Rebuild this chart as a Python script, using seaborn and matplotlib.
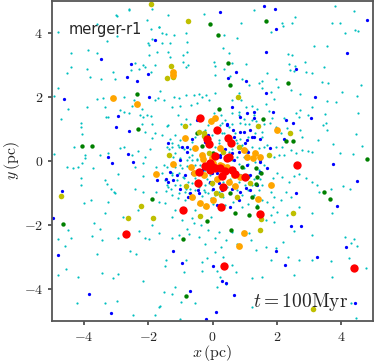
import pandas as pd
import numpy as np

#visalization
import matplotlib
matplotlib.use("Agg")
import matplotlib.pyplot as plt
import matplotlib.ticker as mticker
import seaborn as sns

cyan_xy = [
    (-4.82, 4.04), (-2.59, 4.72), (-3.01, 4.56), (-1.89, 4.74), (-2.03, 4.41), (-1.68, 4.18),
    (-1.57, 3.99), (-1.44, 3.97), (-1.93, 4.14), (-2.98, 3.90), (-3.29, 3.76), (-3.60, 3.38),
    (-3.88, 3.47), (-4.41, 3.36), (-4.42, 2.95), (-4.54, 2.76), (-3.92, 2.86), (-3.83, 2.61),
    (-3.48, 2.56), (-3.10, 2.78), (-3.03, 2.56), (-2.53, 2.84), (-2.41, 3.07), (-2.30, 2.89),
    (-2.18, 2.99), (-1.99, 3.31), (-2.11, 2.95), (-1.91, 2.79), (-1.79, 2.99), (-1.73, 3.42),
    (-1.99, 3.62), (-2.02, 3.70), (-1.88, 3.80), (-1.57, 3.68), (-1.39, 3.42), (-1.31, 3.26),
    (-1.31, 3.68), (-1.21, 3.94), (-0.79, 3.73), (-0.79, 3.42), (-0.76, 3.00), (-0.84, 2.93),
    (-0.93, 3.10), (-0.93, 3.31), (-4.82, 2.27), (-4.93, 2.03), (-4.51, 1.64), (-4.72, 1.31),
    (-3.92, 1.70), (-3.60, 1.93), (-3.42, 1.98), (-3.34, 1.70), (-2.51, 1.72), (-2.46, 1.90),
    (-2.20, 1.64), (-2.77, 2.01), (-3.32, 1.38), (-3.24, 1.38), (-2.87, 1.59), (-2.77, 1.54),
    (-2.61, 1.49), (-2.25, 1.44), (-2.18, 1.36), (-2.04, 1.44), (-1.92, 1.40), (-1.62, 2.20),
    (-1.70, 1.98), (-1.78, 1.90), (-1.52, 1.90), (-1.26, 1.70), (-1.21, 2.01), (-1.05, 1.96),
    (-1.00, 1.72), (-0.82, 2.06), (-0.58, 2.06), (-0.43, 2.09), (-0.32, 2.01), (-0.19, 2.06),
    (-0.11, 1.90), (-0.48, 1.82), (-0.66, 1.75), (-4.09, 1.20), (-4.09, 1.07), (-4.07, 0.84),
    (-4.30, 0.45), (-4.93, 0.22), (-3.97, 0.19), (-3.97, 0.10), (-3.50, 0.19), (-3.24, 0.26),
    (-2.87, 0.40), (-2.77, 0.45), (-2.51, 0.19), (-2.33, 0.31), (-2.09, 0.13), (-1.94, 0.36),
    (-1.88, 0.71), (-1.78, 0.86), (-2.09, 0.91), (-1.88, 1.16), (-2.20, 1.16), (-1.42, 1.09),
    (-1.57, 0.81), (-1.31, 0.68), (-1.42, 0.45), (-1.34, 0.39), (-1.26, 0.45), (-1.16, 0.24),
    (-1.05, 0.43), (-0.90, 0.36), (-0.69, 0.36), (-0.74, 0.13), (-0.64, 0.03), (-0.48, 0.06),
    (-0.27, 0.16), (-0.32, 0.47),
    (0.88, 4.32), (1.81, 4.04), (2.20, 4.22), (2.47, 4.32), (2.57, 4.51), (3.71, 4.32),
    (4.42, 4.70), (4.44, 4.09), (4.12, 3.99), (3.15, 3.59), (3.56, 3.59), (0.37, 3.94),
    (0.77, 3.83), (0.33, 3.54), (0.51, 3.36), (0.61, 3.05), (1.03, 3.03), (0.04, 3.10),
    (0.07, 2.98), (0.35, 2.86), (0.09, 2.69), (0.53, 2.66), (0.91, 2.55), (1.14, 2.37),
    (1.45, 2.45), (1.55, 2.50), (1.71, 2.76), (1.97, 2.57), (2.04, 2.30), (2.34, 3.33),
    (2.49, 3.31), (2.39, 3.03), (2.57, 2.98), (2.42, 2.84), (2.55, 2.82), (2.89, 3.10),
    (2.91, 2.77), (3.11, 2.76), (3.48, 2.93), (3.41, 2.48), (3.61, 2.43), (2.46, 2.22),
    (2.72, 2.08), (1.81, 2.16), (1.92, 1.93), (1.55, 2.27), (0.09, 2.13), (0.82, 2.11),
    (0.61, 1.90), (0.88, 1.90), (0.04, 1.49), (0.25, 1.44), (0.61, 1.49), (0.82, 1.54),
    (1.03, 1.70), (1.24, 1.72), (1.40, 1.64), (1.66, 1.78), (1.76, 1.57), (1.29, 1.44),
    (0.98, 1.30), (0.87, 1.20), (1.14, 1.16), (1.34, 1.25), (1.60, 1.16), (1.79, 1.20),
    (1.84, 1.33), (1.99, 1.07), (2.23, 1.33), (2.59, 1.51), (2.72, 1.59), (2.70, 1.38),
    (2.99, 1.44), (3.11, 1.68), (3.51, 1.47), (3.53, 1.18), (3.43, 1.12), (3.84, 1.85),
    (3.58, 1.87), (4.03, 2.17), (4.50, 2.03), (4.63, 2.39), (4.52, 1.49), (3.56, 0.97),
    (3.30, 0.65), (2.72, 0.97), (2.80, 0.74), (2.33, 1.02), (2.12, 0.86), (2.18, 0.45),
    (1.97, 0.45), (1.92, 0.13), (2.07, 0.19), (2.23, 0.19), (2.44, 0.34), (2.59, 0.24),
    (2.78, 0.34), (2.96, 0.31), (3.11, 0.29), (3.74, 0.52), (3.98, 0.26), (4.39, 0.21),
    (4.66, 0.48), (4.47, 0.83), (1.55, 0.76), (1.71, 0.50), (1.45, 0.42), (1.03, 0.29),
    (0.88, 0.47), (0.72, 0.65), (0.35, 0.86), (0.20, 0.55), (0.51, 1.07), (0.30, 1.18),
    (-4.54, -0.20), (-4.35, -0.23), (-4.18, -0.18), (-4.05, -0.05), (-3.71, -0.23),
    (-4.09, -0.54), (-4.09, -0.75), (-3.34, -0.59), (-3.29, -0.72), (-3.16, -0.89),
    (-3.08, -0.96), (-3.03, -1.01), (-3.99, -1.30), (-3.78, -1.22), (-3.26, -1.27),
    (-3.34, -1.62), (-2.93, -0.41), (-2.41, -0.86), (-2.15, -0.96), (-2.18, -0.47),
    (-2.41, -0.20), (-2.15, -0.05), (-1.76, -0.18), (-1.52, -0.13), (-1.26, -0.37),
    (-1.42, -0.75), (-1.45, -0.93), (-1.28, -0.86), (-1.03, -0.99), (-1.76, -0.96),
    (-1.66, -1.27), (-1.47, -1.32), (-2.32, -1.53), (-2.79, -1.76), (-3.68, -1.95),
    (-3.50, -2.11), (-4.49, -2.16), (-4.80, -2.45), (-4.42, -2.42), (-4.61, -2.66),
    (-3.76, -2.35), (-3.43, -2.47), (-2.93, -2.41), (-2.30, -2.18), (-2.09, -2.42),
    (-1.99, -2.45), (-1.68, -2.26), (-1.26, -2.42), (-1.05, -2.31), (-0.95, -1.84),
    (-0.64, -1.79), (-0.72, -2.28), (-0.43, -2.37), (-0.24, -2.60), (-3.59, -2.91),
    (-2.56, -2.80), (-2.38, -2.91), (-1.45, -3.08), (-1.47, -3.28), (-0.83, -3.08),
    (-0.88, -3.47), (-0.32, -3.15), (-0.34, -3.43), (-0.17, -3.04), (-4.57, -3.36),
    (-4.82, -3.56), (-4.20, -3.62), (-3.43, -3.49), (-3.11, -3.67), (-2.95, -3.53),
    (-2.18, -3.74), (-1.18, -3.95), (-1.52, -4.08), (-1.26, -4.17), (-0.98, -4.40),
    (-0.55, -4.43), (-1.63, -4.52), (-1.68, -4.57), (-2.98, -4.38), (-3.34, -4.45),
    (-4.23, -4.43), (-2.48, -4.81), (-1.80, -4.81), (-1.00, -4.95),
    (-1.57, -0.39), (-1.47, -0.60), (-1.18, -0.75), (-1.05, -0.39), (-0.90, -0.54),
    (-0.84, -0.86), (-0.74, -1.01), (-0.64, -0.70), (-0.55, -0.54), (-0.43, -0.80),
    (-0.22, -0.96), (-0.11, -0.70), (-0.06, -1.17), (-0.27, -1.43), (-0.55, -1.53),
    (-0.58, -1.95), (-0.79, -2.11), (-0.37, -2.00), (-0.14, -2.16), (-0.06, -1.74),
    (-1.16, -1.53), (-1.26, -1.74), (-1.88, -2.00), (-1.00, -0.13), (-0.79, -0.16),
    (-0.53, -0.13), (-0.27, -0.28), (-0.11, -0.33),
    (1.14, -0.49), (1.45, -0.39), (1.87, -0.54), (2.02, -0.39), (2.16, -0.49), (2.39, -0.65),
    (2.54, -0.47), (2.70, -0.41), (2.91, -0.54), (3.11, -0.65), (3.27, -0.75), (3.32, -0.96),
    (3.69, -0.86), (4.07, -0.78), (4.28, -0.86), (2.28, -0.96), (2.44, -1.12), (2.13, -1.22),
    (1.92, -1.14), (1.81, -0.96), (1.71, -1.27), (1.87, -1.43), (2.02, -1.58), (1.81, -1.69),
    (1.66, -1.85), (1.92, -1.90), (2.33, -1.69), (2.70, -1.43), (3.11, -1.64), (3.72, -1.62),
    (4.14, -2.37), (4.42, -2.45), (4.31, -2.55), (4.49, -2.66), (3.11, -2.31), (2.54, -2.18),
    (2.20, -2.52), (1.97, -2.73), (1.66, -2.68), (1.34, -2.78), (1.19, -2.47), (1.14, -2.26),
    (0.62, -2.21), (0.41, -2.47), (0.20, -2.21), (0.09, -2.42), (0.25, -2.68), (0.09, -2.83),
    (0.32, -2.99), (0.77, -2.58), (1.81, -3.10), (2.36, -2.99), (2.70, -3.10), (3.11, -3.10),
    (3.69, -3.13), (4.26, -3.04), (4.78, -3.33), (3.72, -3.61), (2.54, -3.56), (1.55, -3.62),
    (1.24, -3.67), (0.72, -3.46), (0.61, -3.25), (0.15, -3.44), (0.22, -3.62), (0.41, -3.83),
    (0.15, -3.93), (1.22, -4.55), (4.47, -4.90), (4.31, -4.45),
    (-1.38, 1.12), (-1.06, 1.43), (-0.98, 1.17), (-0.83, 1.30), (-0.70, 1.15), (-1.17, 0.81),
    (-1.01, 0.67), (-1.27, 0.55), (-1.06, 0.50), (-0.80, 0.44), (-0.65, 0.60), (-1.38, 0.18),
    (-1.22, 0.13), (-1.01, 0.08), (-0.80, 0.03), (-0.65, 0.18), (-1.17, -0.18), (-0.96, -0.23),
    (-1.27, -0.44), (-1.12, -0.60), (-0.91, -0.49), (-0.75, -0.65), (-1.01, -0.75), (-0.70, -0.86),
    (-0.54, -0.91), (-0.85, -0.96), (-0.59, -1.12), (-0.33, -1.10), (-0.28, -0.91), (-0.13, -1.01),
    (-0.02, -0.91), (0.08, -1.07), (0.19, -0.96), (0.34, -1.12), (0.55, -1.01), (0.76, -0.91),
    (0.92, -1.07), (1.12, -0.91), (1.28, -1.07), (1.44, -0.91), (1.54, -0.75), (1.23, -0.75),
    (1.02, -0.75), (0.81, -0.65), (1.28, -0.55), (1.49, -0.55), (1.12, -0.44), (1.44, -0.29),
    (1.59, -0.13), (1.33, -0.03), (1.12, -0.08), (1.38, 0.24), (1.59, 0.44), (1.23, 0.44),
    (1.07, 0.34), (0.92, 0.50), (0.86, 0.70), (1.12, 0.76), (1.33, 0.86), (1.54, 0.91),
    (1.44, 1.12), (1.23, 1.28), (1.02, 1.17), (0.81, 1.43), (0.60, 1.17), (0.40, 1.28),
    (0.24, 1.12), (-0.13, 1.12), (-0.23, 0.96), (-0.44, 0.86), (-0.54, 0.76), (-0.01, 0.81),
    (0.19, 0.65), (0.29, 0.86), (0.71, 0.86), (0.76, 0.55), (0.60, 0.39), (0.50, 0.29),
    (0.29, 0.34), (0.08, 0.44), (-0.13, 0.29), (-0.33, 0.13), (-0.49, 0.03), (-0.39, -0.13),
    (-0.23, -0.29), (-0.33, -0.44), (-0.18, -0.55), (-0.07, -0.44), (0.08, -0.60), (0.19, -0.49),
    (0.34, -0.65), (0.55, -0.55), (0.65, -0.75), (0.45, -0.81), (0.24, -0.81), (-0.02, -0.75),
    (-0.23, -0.75), (-0.44, -0.65), (-0.54, -0.39), (-0.65, -0.23), (0.97, -0.23), (0.81, -0.08),
    (0.76, 0.13), (0.97, 0.13), (0.60, 0.03), (-0.85, -1.23), (-1.06, -1.17), (-1.27, -1.07),
    (-0.44, -1.33), (-0.23, -1.43), (0.03, -1.33), (0.40, -1.38), (0.65, -1.28), (0.92, -1.43),
    (1.12, -1.33), (1.38, -1.38), (1.54, -1.23), (-1.38, -0.80), (-1.43, -0.18),
    (-2.59, 4.74), (-0.28, 4.58), (-1.38, 4.56), (-1.66, 4.20), (-0.84, 4.00), (-2.99, 4.53),
    (-3.61, 4.28), (1.30, 4.72), (3.83, 4.84), (4.53, 4.07), (2.17, 4.30), (3.97, 4.32),
]
blue_xy = [
    (-4.64, 1.95), (-3.46, 3.18), (-1.79, 3.78), (-2.55, 3.03), (-2.34, 2.51), (-1.99, 1.99),
    (-2.00, 2.72), (-2.67, 2.61), (-2.94, 1.41), (-3.01, 1.05), (-2.59, 0.94), (-3.27, 0.14),
    (-3.14, -0.07), (-2.64, 0.22), (-2.47, -0.04), (-4.70, -0.93), (-4.97, -1.79), (-1.22, -2.80),
    (-0.95, -3.20), (-0.69, -4.06), (-3.17, -4.74), (-0.21, -4.95), (0.11, -4.71), (0.66, -4.19),
    (0.03, -3.27), (0.31, -3.75), (0.43, -3.80), (1.98, -2.80), (2.27, -3.24), (3.26, -2.99),
    (4.17, -2.70), (4.49, -0.63), (3.76, -0.09), (3.89, -1.40), (2.76, -2.03), (2.46, -2.03),
    (2.59, -0.99), (4.81, 4.41), (4.20, 3.39), (3.20, 2.01), (3.06, 1.33), (2.51, 1.18),
    (1.90, 1.52), (1.67, 2.11), (2.61, 2.86), (1.05, 2.50), (0.72, 2.78), (0.24, 4.67),
    (1.61, 4.85), (1.96, 4.76), (1.99, 4.11), (1.66, 3.40), (0.47, 2.59), (0.60, 1.68),
    (0.86, 1.39), (1.30, 1.54), (2.29, 1.28), (-0.80, 0.45), (-0.96, 0.45), (-1.22, -0.59),
    (-1.46, -0.57), (-1.74, -0.59), (-0.77, -1.11), (-0.41, -1.01), (0.19, -0.68), (0.84, -1.22),
    (1.05, -0.85), (1.70, -0.23), (1.80, 0.40), (2.22, 0.68), (1.49, 0.03), (1.23, 0.76),
    (0.86, 0.92), (0.66, 0.76), (1.07, 0.66), (0.45, 1.13), (-0.18, 0.53), (0.24, 0.19),
    (0.66, 0.03), (0.14, -0.39), (-0.09, -0.65), (-1.38, 0.57), (-0.80, 0.29), (-0.65, 0.70),
    (-0.44, 0.91), (-0.49, 1.28), (-0.23, 0.60), (-0.13, 0.81), (0.45, 1.17), (0.65, 0.96),
    (0.97, 0.91), (1.18, 0.96), (1.28, 0.76), (1.49, 0.70), (1.02, 0.55), (1.07, 1.49),
    (1.28, 1.33), (0.40, 0.39), (0.60, 0.24), (0.81, 0.29), (1.12, 0.29), (1.28, 0.08),
    (1.49, -0.03), (1.07, -0.13), (0.86, -0.44), (0.71, -0.39), (1.18, -0.44), (1.49, -0.34),
    (-1.01, 0.03), (-1.32, -0.34), (-1.38, -0.65), (-1.12, -0.44), (-0.85, -0.44), (-0.65, -0.39),
    (-0.33, -0.29), (-0.01, -0.39), (0.03, -0.86), (0.29, -0.91), (0.60, -0.86), (0.86, -0.96),
    (1.18, -0.91), (1.38, -0.75), (-0.44, -0.91), (-0.70, -1.01), (-1.01, -0.86), (0.55, -1.43),
    (0.14, -1.38), (0.24, 0.13), (4.45, -4.45), (-4.8, -2.95), (-3.85, -4.15),
]
green_xy = [
    (-0.09, 4.29), (1.67, 4.36), (0.17, 3.95), (0.48, 3.06), (0.56, 2.36), (2.34, 2.43),
    (-2.35, 2.09), (-2.31, 0.99), (-4.08, 0.47), (-3.76, 0.47), (0.21, 1.63), (1.56, 1.31),
    (-0.49, 0.89), (-0.33, 0.48), (2.29, 0.64), (2.51, 0.61), (4.82, 0.05), (0.01, 0.24),
    (1.36, -0.21), (1.51, -0.36), (1.38, -0.49), (1.09, -0.49), (1.35, -0.72), (0.55, -0.99),
    (1.23, -1.14), (1.40, -1.45), (1.13, -1.68), (0.71, -1.64), (-0.16, -1.88), (0.58, -2.16),
    (-0.93, -2.44), (-1.88, -1.19), (3.47, -0.98), (3.65, -1.20), (-4.66, -1.98), (-0.82, -4.22),
    (0.92, -0.18),
]
yellow_xy = [
    (-1.92, 4.90), (-0.77, 4.39), (-1.30, 2.98), (-1.41, 2.60), (-1.24, 2.61), (0.79, 2.00),
    (-0.85, 1.09), (1.41, 1.09), (2.42, 0.89), (-0.28, 0.89), (-1.34, 0.19), (-0.26, 0.78),
    (0.34, 0.29), (0.81, 0.45), (1.76, 0.19), (-0.02, -0.70), (0.10, -1.01), (1.18, -0.69),
    (0.76, -1.11), (-0.83, -0.77), (-2.24, -1.40), (-2.64, -1.79), (-1.84, -1.77), (-4.73, -1.08),
    (-0.39, -1.72), (1.51, -1.81), (1.49, -2.16), (2.51, -1.61), (3.13, -4.64), (-0.41, 0.90),
    (0.25, -1.05), (-0.10, 0.25),
]
orange_xy = [
    (-3.11, 1.96), (-2.36, 1.77), (-1.22, 2.79), (0.08, 1.33), (-0.05, 1.26), (-0.85, 0.73),
    (-0.54, 0.40), (-0.33, 0.19), (-0.01, 0.08), (0.22, 0.40), (1.07, 0.14), (1.33, 0.24),
    (1.49, 0.14), (0.97, 0.34), (2.01, 0.97), (-1.22, -0.10), (-1.76, -0.42), (-0.67, -0.18),
    (-0.59, -0.39), (-0.28, -0.44), (0.66, -0.44), (0.86, -0.49), (0.71, -0.77), (0.50, -0.65),
    (1.83, -0.75), (1.42, -1.20), (-0.64, -1.11), (-0.39, -1.32), (-0.20, -1.41), (0.03, -1.22),
    (0.99, -2.24), (0.84, -2.65), (-1.22, 2.70), (0.24, -0.12), (0.45, -0.20), (-0.30, 0.05),
    (0.15, -0.55), (1.25, 0.10), (0.29, -0.17), (0.03, -0.07),
]
red_xy = [
    (-0.39, 1.33), (0.14, 0.97), (-0.16, 0.68), (-0.10, 0.53), (0.48, 0.73), (0.57, 0.57),
    (0.50, 0.11), (0.09, 0.17), (-0.22, -0.15), (0.03, -0.18), (0.24, -0.23), (0.60, -0.28),
    (1.02, -0.49), (-0.42, -0.33), (-0.44, -0.68), (0.32, -0.82), (0.26, -1.43), (-0.91, -1.53),
    (1.47, -1.67), (-2.68, -2.28), (0.35, -3.28), (4.41, -3.34), (2.64, -0.11), (0.29, -0.47),
    (0.71, -0.41), (-0.07, -0.28), (0.45, 0.08), (-0.07, -0.05), (0.08, -0.23), (0.40, -0.30),
]

groups = [
    ("cyan", cyan_xy, "#00bfbf", 2.5),
    ("blue", blue_xy, "#0000ff", 5.5),
    ("green", green_xy, "#008000", 10),
    ("yellow", yellow_xy, "#bfbf00", 16),
    ("orange", orange_xy, "#ffa500", 24),
    ("red", red_xy, "#ff0000", 36),
]

sns.set_style("ticks")
plt.rcParams["mathtext.fontset"] = "cm"
plt.rcParams["font.family"] = ["DejaVu Sans"]

fig = plt.figure(figsize=(3.74, 3.64), dpi=100)
ax = fig.add_axes([52 / 374, 43 / 364, 321 / 374, 320 / 364])

for name, pts, col, size in groups:
    df = pd.DataFrame(pts, columns=["x", "y"])
    sns.scatterplot(data=df, x="x", y="y", color=col, s=size, linewidth=0, ax=ax)

ax.set_xlim(-5, 5)
ax.set_ylim(-5, 5)
ax.set_xticks([-4, -2, 0, 2, 4])
ax.set_yticks([-4, -2, 0, 2, 4])
fmt = mticker.FuncFormatter(lambda v, p: "$%d$" % v)
ax.xaxis.set_major_formatter(fmt)
ax.yaxis.set_major_formatter(fmt)
ax.tick_params(labelsize=10, length=3, width=1.1, color="#333333", pad=3.5)
for sp in ax.spines.values():
    sp.set_color("#555555")
    sp.set_linewidth(1.3)

ax.set_xlabel(r"$x\,(\rm pc)$", fontsize=11.5, labelpad=-1)
ax.set_ylabel(r"$y\,(\rm pc)$", fontsize=11.5, labelpad=1)

ax.text(0.053, 0.91, "merger-r1", transform=ax.transAxes, fontsize=10.5, va="center", ha="left")
ax.text(0.922, 0.044, r"$t = 100{\rm Myr}$", transform=ax.transAxes, fontsize=14,
        ha="right", va="baseline")

fig.savefig("out.png", dpi=100)
